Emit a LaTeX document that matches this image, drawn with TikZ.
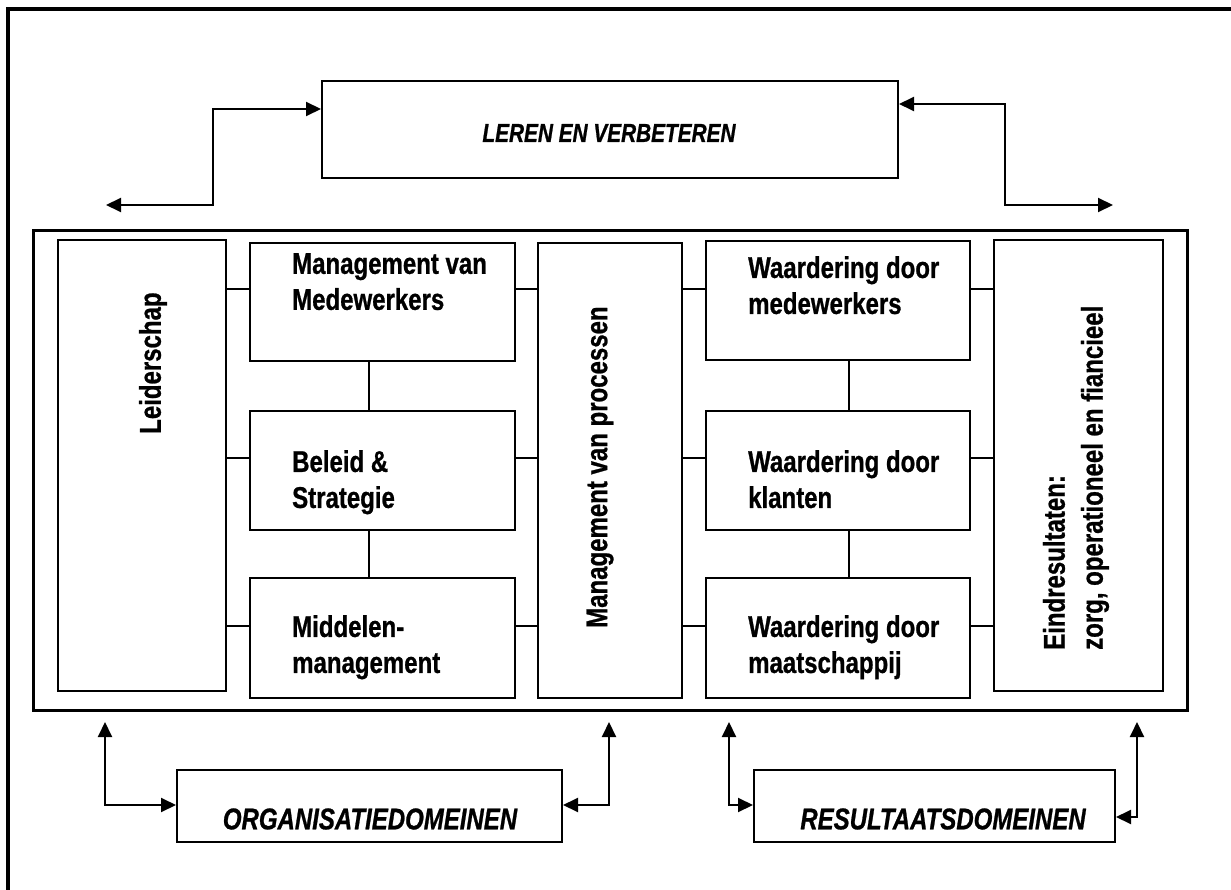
\documentclass[tikz,border=0pt]{standalone}
\usepackage{fontspec}
\setmainfont{Liberation Sans}[FakeStretch=0.8, BoldFeatures={FakeBold=0.8}, BoldItalicFeatures={FakeBold=0.8}]
\usetikzlibrary{arrows.meta}
\begin{document}
\begin{tikzpicture}[x=1pt,y=-1pt,
  box/.style={draw, line width=2pt, inner sep=0pt, anchor=north west},
  link/.style={line width=1.6pt},
  dbl/.style={line width=2pt, {Triangle[length=15pt,width=14pt]}-{Triangle[length=15pt,width=14pt]}},
  txt/.style={font=\fontsize{30}{36}\selectfont\bfseries, inner sep=0pt, align=left},
  itxt/.style={font=\fontsize{30}{36}\selectfont\bfseries\itshape, inner sep=0pt},
  rtxt/.style={font=\fontsize{30}{38}\selectfont\bfseries, inner sep=0pt, align=left, rotate=90, anchor=west}]
\useasboundingbox (0,0) rectangle (1231,890);
\fill[white] (0,0) rectangle (1231,890);
% outer frame (clipped at right and bottom)
\draw[line width=3.5pt] (8,895) -- (8,9) -- (1236,9);
% top box
\node[box, minimum width=576pt, minimum height=97pt] (leren) at (321,80) {};
\node[itxt, font=\fontsize{26}{30}\selectfont\bfseries\itshape] (lerent) at (609,133) {LEREN EN VERBETEREN};
% container
\node[box, line width=2.8pt, minimum width=1154pt, minimum height=480pt] (cont) at (32,229) {};
% columns
\node[box, minimum width=168pt, minimum height=451pt] (leid) at (57,239) {};
\node[box, minimum width=265pt, minimum height=118pt] (mm) at (249,242) {};
\node[box, minimum width=265pt, minimum height=119pt] (bs) at (249,410) {};
\node[box, minimum width=265pt, minimum height=120pt] (mid) at (249,577) {};
\node[box, minimum width=144pt, minimum height=455pt] (proc) at (537,242) {};
\node[box, minimum width=264pt, minimum height=119pt] (wm) at (705,240) {};
\node[box, minimum width=264pt, minimum height=119pt] (wk) at (705,410) {};
\node[box, minimum width=264pt, minimum height=120pt] (wmt) at (705,577) {};
\node[box, minimum width=169pt, minimum height=451pt] (eind) at (993,239) {};
% texts
\node[rtxt] (leidt) at (153,434) {Leiderschap};
\node[txt, anchor=north west] (mmt) at (292,253) {Management van\\Medewerkers};
\node[txt, anchor=north west] (bst) at (292,450) {Beleid \&\\Strategie};
\node[txt, anchor=north west] (midt) at (292,615) {Middelen-\\management};
\node[rtxt] (proct) at (600,628) {Management van processen};
\node[txt, anchor=north west] (wmtx) at (748,256) {Waardering door\\medewerkers};
\node[txt, anchor=north west] (wkt) at (748,450) {Waardering door\\klanten};
\node[txt, anchor=north west] (wmtt) at (748,615) {Waardering door\\maatschappij};
\node[rtxt] (eindt) at (1076,650) {Eindresultaten:\\zorg, operationeel en fiancieel};
% horizontal links
\foreach \y/\a/\b in {289/mm/wm, 458/bs/wk, 626/mid/wmt}{
  \draw[link] (leid.east |- 0,\y) -- (\a.west |- 0,\y);
  \draw[link] (\a.east |- 0,\y) -- (proc.west |- 0,\y);
  \draw[link] (proc.east |- 0,\y) -- (\b.west |- 0,\y);
  \draw[link] (\b.east |- 0,\y) -- (eind.west |- 0,\y);
}
% vertical links
\draw[link] (mm.south -| 369,0) -- (bs.north -| 369,0);
\draw[link] (bs.south -| 369,0) -- (mid.north -| 369,0);
\draw[link] (wm.south -| 849,0) -- (wk.north -| 849,0);
\draw[link] (wk.south -| 849,0) -- (wmt.north -| 849,0);
% bottom boxes
\node[box, minimum width=385pt, minimum height=72pt] (org) at (176,769) {};
\node[itxt] (orgt) at (370,819) {ORGANISATIEDOMEINEN};
\node[box, minimum width=361pt, minimum height=72pt] (res) at (753,769) {};
\node[itxt] (rest) at (943,819) {RESULTAATSDOMEINEN};
% free arrow ends
\coordinate (tl) at (106,205);
\coordinate (tr) at (1113,205);
\coordinate (b1) at (105,722);
\coordinate (b2) at (609,722);
\coordinate (b3) at (729,722);
\coordinate (b4) at (1137,722);
% arrows
\draw[dbl] (leren.west |- 0,109) -- (213,109) -- (213,205) -- (tl);
\draw[dbl] (leren.east |- 0,104) -- (1005,104) -- (1005,205) -- (tr);
\draw[dbl] (b1) -- (105,805) -- (org.west |- 0,805);
\draw[dbl] (org.east |- 0,805) -- (609,805) -- (b2);
\draw[dbl] (b3) -- (729,805) -- (res.west |- 0,805);
\draw[dbl] (res.east |- 0,817) -- (1137,817) -- (b4);
\end{tikzpicture}
\end{document}
